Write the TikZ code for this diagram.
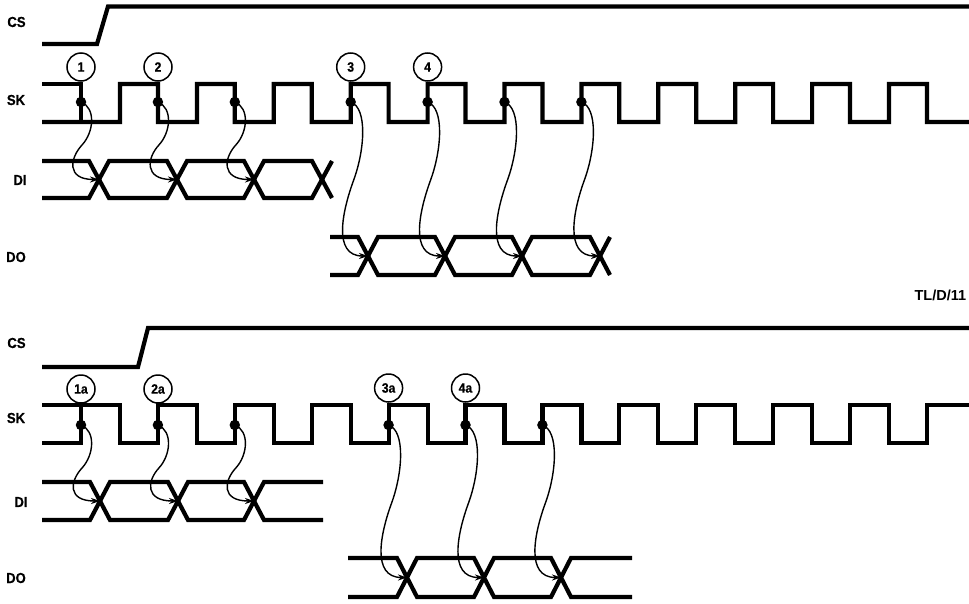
\documentclass[tikz,border=0pt]{standalone}
\usepackage{fontspec}
\setmainfont{Liberation Sans}
\newfontfamily\labfont[FakeStretch=0.9, BoldFeatures={FakeBold=0.6}]{Liberation Sans}
\usetikzlibrary{arrows.meta,calc}
\tikzset{
  sig/.style={line width=4.2pt, line join=miter},
  arr/.style={line width=1.4pt, -{Stealth[length=9pt,width=6pt]}},
  sdot/.style={circle, fill, inner sep=0pt, minimum size=10.5pt},
  num/.style={circle, draw, line width=1.5pt, inner sep=0pt, minimum size=28pt, font=\labfont\bfseries\fontsize{13.5}{13.5}\selectfont},
  lab/.style={font=\labfont\bfseries\fontsize{14.5}{14.5}\selectfont},
  tag/.style={font=\bfseries\fontsize{14.5}{14.5}\selectfont, anchor=west}
}
\newcommand\sarr[2]{\draw[arr] (#1.center) .. controls +(15,6) and +(12,-13) .. ($(#1.center)+(1,43)$) .. controls +(-12,13) and +(-33,0) .. (#2);}
\newcommand\larr[2]{\draw[arr] (#1.center) .. controls +(17,6) and +(11,-30) .. ($(#1.center)+(3,78)$) .. controls +(-11,30) and +(-36,0) .. (#2);}
\begin{document}
\begin{tikzpicture}[x=1pt,y=-1pt]
\useasboundingbox (0,0) rectangle (969,603);

% ---------------- TOP DIAGRAM ----------------
\node[lab] (tcs) at (16.5,22) {CS};
\node[lab] (tsk) at (16,100) {SK};
\node[lab] (tdi) at (20,180) {DI};
\node[lab] (tdo) at (16,257) {DO};

% CS
\draw[sig] (42,44) -- (97,44) -- (108,6.5) -- (969,6.5);
% SK
\draw[sig] (42,84) -- (81,84) -- (81,122);
\draw[sig] (42,122) -- (120,122)
  foreach \k in {0,...,9} { -- ({120+76.9*\k},84) -- ({157.9+76.9*\k},84) -- ({157.9+76.9*\k},122) -- ({196.9+76.9*\k},122) }
  -- (889,84) -- (926.9,84) -- (926.9,122) -- (969,122);
% DI
\draw[sig] (42,161) -- (89,161) -- (109,198) -- (167,198) -- (187,161) -- (244,161) -- (264,198) -- (312,198) -- (332,161);
\draw[sig] (42,198) -- (89,198) -- (109,161) -- (167,161) -- (187,198) -- (244,198) -- (264,161) -- (312,161) -- (332,198);
% DO
\draw[sig] (330,237) -- (358,237) -- (378,275) -- (435,275) -- (455,237) -- (512,237) -- (532,275) -- (590,275) -- (610,237);
\draw[sig] (330,275) -- (358,275) -- (378,237) -- (435,237) -- (455,275) -- (512,275) -- (532,237) -- (590,237) -- (610,275);

% numbered circles
\node[num] (n1) at (81,67) {1};
\node[num] (n2) at (158,67) {2};
\node[num] (n3) at (350.7,67) {3};
\node[num] (n4) at (427.6,67) {4};

% dots
\node[sdot] (td1) at (81,102) {};
\node[sdot] (td2) at (157.9,102) {};
\node[sdot] (td3) at (234.8,102) {};
\node[sdot] (td4) at (350.7,102) {};
\node[sdot] (td5) at (427.6,102) {};
\node[sdot] (td6) at (504.5,102) {};
\node[sdot] (td7) at (581.4,102) {};

% crossings
\coordinate (tx1) at (99,179.5);
\coordinate (tx2) at (177,179.5);
\coordinate (tx3) at (254,179.5);
\coordinate (tx4) at (368,256);
\coordinate (tx5) at (445,256);
\coordinate (tx6) at (522,256);
\coordinate (tx7) at (600,256);

\sarr{td1}{tx1}
\sarr{td2}{tx2}
\sarr{td3}{tx3}
\larr{td4}{tx4}
\larr{td5}{tx5}
\larr{td6}{tx6}
\larr{td7}{tx7}

\node[tag] (tl) at (911,295) {TL/D/11};

% ---------------- BOTTOM DIAGRAM ----------------
\node[lab] (bcs) at (16.5,343) {CS};
\node[lab] (bsk) at (16,418) {SK};
\node[lab] (bdi) at (21,502) {DI};
\node[lab] (bdo) at (16,578) {DO};

% CS
\draw[sig] (42,367) -- (138,367) -- (148,328) -- (969,328);
% SK
\draw[sig] (42,443) -- (81,443) -- (81,405);
\draw[sig] (42,405) -- (120,405)
  foreach \k in {0,...,10} { -- ({120+76.9*\k},443) -- ({157.9+76.9*\k},443) -- ({157.9+76.9*\k},405) -- ({196.9+76.9*\k},405) }
  -- (969,405);
% DI
\draw[sig] (42,482) -- (90,482) -- (110,520) -- (168,520) -- (188,482) -- (244,482) -- (264,520) -- (323,520);
\draw[sig] (42,520) -- (90,520) -- (110,482) -- (168,482) -- (188,520) -- (244,520) -- (264,482) -- (323,482);
% DO
\draw[sig] (348,558) -- (397,558) -- (417,597) -- (474,597) -- (494,558) -- (551,558) -- (571,597) -- (632,597);
\draw[sig] (348,597) -- (397,597) -- (417,558) -- (474,558) -- (494,597) -- (551,597) -- (571,558) -- (632,558);

% numbered circles
\node[num] (m1) at (81,389) {1a};
\node[num] (m2) at (158,389) {2a};
\node[num] (m3) at (388.6,388) {3a};
\node[num] (m4) at (465.5,388) {4a};

% dots
\node[sdot] (bd1) at (81,425) {};
\node[sdot] (bd2) at (157.9,425) {};
\node[sdot] (bd3) at (234.8,425) {};
\node[sdot] (bd4) at (388.6,425) {};
\node[sdot] (bd5) at (465.5,425) {};
\node[sdot] (bd6) at (542.4,425) {};

% crossings
\coordinate (bx1) at (100,501);
\coordinate (bx2) at (178,501);
\coordinate (bx3) at (254,501);
\coordinate (bx4) at (407,577.5);
\coordinate (bx5) at (484,577.5);
\coordinate (bx6) at (561,577.5);

\sarr{bd1}{bx1}
\sarr{bd2}{bx2}
\sarr{bd3}{bx3}
\larr{bd4}{bx4}
\larr{bd5}{bx5}
\larr{bd6}{bx6}
\end{tikzpicture}
\end{document}
